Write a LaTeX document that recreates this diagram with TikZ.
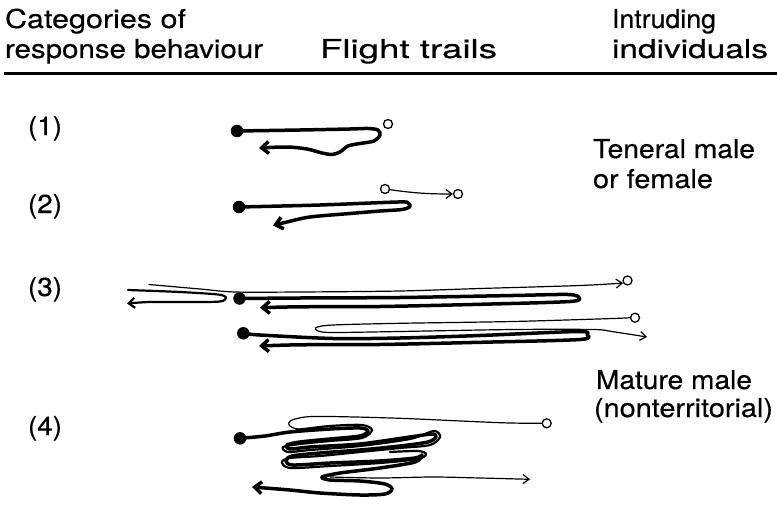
\documentclass[tikz,border=0pt]{standalone}
\usepackage{fontspec}
\setmainfont{TeX Gyre Heros}[FakeBold=0.3]
\newfontfamily\lblfont{TeX Gyre Heros}[FakeBold=0.4]
\usepackage{graphicx}
\usetikzlibrary{arrows.meta}
\newcommand\fitw[2]{\resizebox{#1pt}{\height}{#2}}
\tikzset{
  lbl/.style={anchor=base west, inner sep=0pt, outer sep=0pt, font=\lblfont\fontsize{26}{30}\selectfont},
  dotnode/.style={circle, fill=black, inner sep=0pt, minimum size=12.5pt},
  ocirc/.style={circle, draw=black, line width=1.3pt, fill=white, inner sep=0pt, minimum size=9pt},
  trailA/.style={line width=3.5pt, line cap=round, line join=round},
  trailB/.style={line width=2.2pt, line cap=round, line join=round},
  trailC/.style={line width=1.2pt, line cap=round, line join=round},
  arrA/.style={-{Straight Barb[length=7pt,width=12pt]}},
  arrB/.style={-{Straight Barb[length=6pt,width=10pt]}},
  arrC/.style={-{Straight Barb[length=6pt,width=9pt]}},
}
\begin{document}
\begin{tikzpicture}[x=1pt,y=-1pt]
\useasboundingbox (0,0) rectangle (777,519);
\fill[white] (0,0) rectangle (777,519);
% header
\node[lbl] (h1) at (5,28) {\fitw{181}{Categories of}};
\node[lbl] (h2) at (5,58) {\fitw{258}{response behaviour}};
\node[lbl] (h3) at (320,58) {\fitw{177}{Flight trails}};
\node[lbl] (h4) at (612,28) {\fitw{104}{Intruding}};
\node[lbl] (h5) at (612,58) {\fitw{156}{individuals}};
\draw[line width=3pt] (4,74) -- (777,74);
% category labels
\node[lbl] (l1) at (28,135) {\fitw{34}{(1)}};
\node[lbl] (l2) at (28,213) {\fitw{34}{(2)}};
\node[lbl] (l3) at (28,296) {\fitw{34}{(3)}};
\node[lbl] (l4) at (28,435) {\fitw{34}{(4)}};
% intruder labels
\node[lbl] (r1) at (593,158) {\fitw{162}{Teneral male}};
\node[lbl] (r2) at (593,188) {\fitw{120}{or female}};
\node[lbl] (r3) at (596,389) {\fitw{156}{Mature male}};
\node[lbl] (r4) at (594,417) {\fitw{179}{(nonterritorial)}};
% dots and circles
\node[dotnode] (d1) at (237,131) {};
\node[ocirc] (c1) at (388,124) {};
\node[dotnode] (d2) at (239,207) {};
\node[ocirc] (c2a) at (385,189) {};
\node[ocirc] (c2b) at (458,194) {};
\node[dotnode] (d3a) at (239.5,298.5) {};
\node[ocirc] (c3a) at (627.5,280.5) {};
\node[dotnode] (d3b) at (243.3,333.3) {};
\node[ocirc] (c3b) at (635,317.7) {};
\node[dotnode] (d4) at (240,438.3) {};
\node[ocirc] (c4) at (546.7,423.3) {};
\coordinate (s3a) at (149,284.5);
\coordinate (s3h) at (128,290);
\coordinate (s4) at (330,477);
% trail 1
\draw[trailA, arrA] plot[smooth, tension=0.5] coordinates {(d1) (300,130) (350,129) (368,128.5) (378,130) (380,135) (374,141) (360,143.5) (348,146) (340,152) (332,154.5) (322,153) (307,149) (287,147) (259,148)};
% trail 2
\draw[trailA, arrA] plot[smooth, tension=0.5] coordinates {(d2) (320,205) (398,202) (408,203) (410,206.5) (402,209.5) (380,211) (350,213.5) (310,217) (287,222) (273,225.5)};
\draw[trailC, arrC] (c2a) to[out=-8, in=180] (c2b);
% trail 3a
\draw[trailC, arrC] plot[smooth, tension=0.5] coordinates {(s3a) (200,289) (235,292) (300,292) (400,291) (480,288.5) (580,285.5) (c3a.210)};
\draw[trailB, arrB] plot[smooth, tension=0.5] coordinates {(s3h) (180,292) (218,294.5) (226,297.5) (220,301.5) (190,302) (150,302) (127,303.5)};
\draw[trailA, arrA] plot[smooth, tension=0.5] coordinates {(d3a) (300,298) (400,297.5) (513,295.5) (568,294.5) (579,297.5) (570,301.5) (480,304.3) (380,306.5) (300,306.8) (260,307.7)};
% trail 3b
\draw[trailC, arrC] plot[smooth, tension=0.5] coordinates {(c3b.west) (613,318.5) (513,321.5) (400,323.3) (333,325) (316,327.5) (318,331) (333,332.5) (400,331.5) (513,329.5) (593,329.5) (613,331.7) (647,337)};
\draw[trailA, arrA] plot[smooth, tension=0.5] coordinates {(d3b) (260,335) (333,338.5) (400,338) (480,335.5) (578,331.5) (587,334.5) (580,339.5) (480,342.3) (380,344.5) (300,344.8) (259,346)};
% trail 4
\draw[trailC] plot[smooth, tension=0.5] coordinates {(c4.west) (500,422.7) (400,418.3) (330,416.5) (305,417) (291,420.5) (289,425) (298,429) (330,430)};
\draw[trailB] plot[smooth, tension=0.5] coordinates {(296,430) (330,426) (362,425) (372,430) (362,438) (330,441) (300,444) (283,447) (288,452) (310,450) (360,446) (410,439) (434,431) (440,437) (430,445) (400,448) (360,452) (320,456) (290,458) (282,462) (290,468) (330,466) (380,463) (418,459) (426,454) (418,451) (390,452)};
\draw[trailA, arrA] plot[smooth, tension=0.5] coordinates {(d4) (265,436) (290,432) (330,429) (360,428) (368,431) (360,436) (330,439) (300,442) (287,445) (290,449) (310,447) (360,444) (410,437) (432,434) (436,437) (428,442) (400,446) (360,450) (320,453) (292,456) (286,461) (293,465) (330,463) (380,461) (415,458) (422,455) (415,462) (380,468) (340,473) (322,477) (330,480) (360,481) (385,484) (392,489) (385,494) (360,495) (320,493) (290,490) (252,487)};
\draw[trailC, arrC] plot[smooth, tension=0.5] coordinates {(s4) (380,478) (433,477) (480,478) (530,479.3)};
\end{tikzpicture}
\end{document}
